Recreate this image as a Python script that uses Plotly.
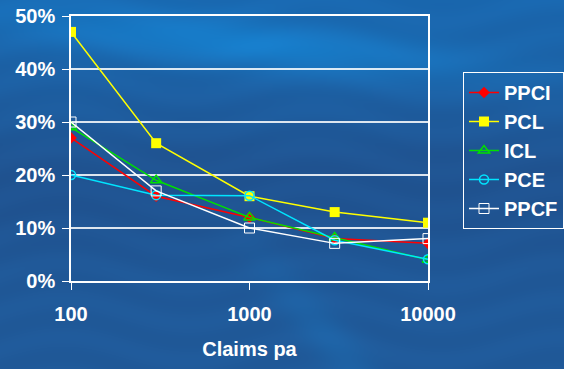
import base64
import struct
import zlib

import numpy as np
import plotly.graph_objects as go

# Claims per annum (log scale) and rates per series
claims = [100, 300, 1000, 3000, 10000]
ppci = [0.27, 0.16, 0.12, 0.08, 0.071]
pcl = [0.47, 0.26, 0.16, 0.13, 0.11]
icl = [0.29, 0.19, 0.12, 0.082, 0.04]
pce = [0.20, 0.162, 0.161, 0.077, 0.041]
ppcf = [0.30, 0.17, 0.10, 0.071, 0.08]

W, H = 564, 369
L, R, T, B = 71, 136, 16, 88


def ocean_png(w, h):
    """Build a blue, softly streaked backdrop as a PNG data URI."""
    yy, xx = np.mgrid[0:h, 0:w].astype(float)
    t = np.clip(yy / 160.0, 0, 1)
    base = np.stack([
        26 + 6 * t,
        104 - 14 * t,
        176 - 22 * t,
    ], axis=-1)
    # lighter diagonal band across the top
    band1 = np.exp(-((yy - 45 - 0.10 * (xx - 250)) / 26.0) ** 2) * np.exp(-((xx - 250) / 230.0) ** 2)
    # faint bright streak running down to the lower middle
    band2 = np.exp(-((xx - 250 - 0.8 * (yy - 240)) / 28.0) ** 2) * np.clip((yy - 200) / 120, 0, 1)
    # darker middle area
    dark = np.exp(-((yy - 190) / 70.0) ** 2)
    light = band1 * 1.0 + band2 * 0.35
    img = base + light[..., None] * np.array([-4, 26, 34]) - dark[..., None] * np.array([0, 6, 8])
    # gentle horizontal ripple texture
    ripple = 3 * np.sin(yy / 6.0 + np.sin(xx / 40.0) * 2.0)
    img = img + ripple[..., None] * np.array([0.2, 0.6, 0.8])
    img = np.clip(img, 0, 255).astype(np.uint8)
    raw = b"".join(b"\x00" + img[r].tobytes() for r in range(h))

    def chunk(tag, data):
        c = struct.pack(">I", len(data)) + tag + data
        return c + struct.pack(">I", zlib.crc32(tag + data) & 0xFFFFFFFF)

    png = b"\x89PNG\r\n\x1a\n"
    png += chunk(b"IHDR", struct.pack(">IIBBBBB", w, h, 8, 2, 0, 0, 0))
    png += chunk(b"IDAT", zlib.compress(raw, 9))
    png += chunk(b"IEND", b"")
    return "data:image/png;base64," + base64.b64encode(png).decode()


series = [
    ("PPCI", ppci, "#ff0000", dict(symbol="diamond", size=9, color="#ff0000")),
    ("PCL", pcl, "#ffff00", dict(symbol="square", size=10, color="#ffff00")),
    ("ICL", icl, "#00e000", dict(symbol="triangle-up-open", size=10, color="#00e000", line=dict(width=1.5))),
    ("PCE", pce, "#00e5ff", dict(symbol="circle-open", size=9, color="#00e5ff", line=dict(width=1.5))),
    ("PPCF", ppcf, "#ffffff", dict(symbol="square-open", size=10, color="#ffffff", line=dict(width=1))),
]

FAMILY = "Liberation Sans, Arial, sans-serif"
FS = 20

fig = go.Figure()
for name, vals, col, mk in series:
    fig.add_trace(go.Scatter(
        x=claims, y=vals, name=f"<b>{name}</b>", mode="lines+markers",
        line=dict(color=col, width=1.5), marker=mk,
    ))

pw, ph = W - L - R, H - T - B

fig.update_layout(
    width=W, height=H,
    margin=dict(l=L, r=R, t=T, b=B, autoexpand=False),
    paper_bgcolor="#205a9b",
    plot_bgcolor="rgba(0,0,0,0)",
    font=dict(family=FAMILY, size=FS, color="white"),
    showlegend=True,
    legend=dict(
        x=463 / W, y=1 - 72 / H, xref="container", yref="container",
        xanchor="left", yanchor="top",
        bgcolor="rgba(0,0,0,0)", bordercolor="white", borderwidth=1,
        font=dict(family=FAMILY, size=FS, color="white"),
        itemwidth=30, tracegroupgap=0,
    ),
    images=[dict(
        source=ocean_png(W, H), xref="paper", yref="paper",
        x=-L / pw, y=1 + T / ph,
        sizex=W / pw, sizey=H / ph,
        xanchor="left", yanchor="top", sizing="stretch", layer="below",
    )],
    xaxis=dict(
        type="log", range=[2, 4], automargin=False,
        tickvals=[100, 1000, 10000],
        ticktext=["<b>100</b>", "<b>1000</b>", "<b>10000</b>"],
        ticks="outside", ticklen=7, tickcolor="white", tickwidth=1,
        showgrid=False, showline=True, linecolor="white", linewidth=2, mirror=True,
        tickfont=dict(family=FAMILY, size=FS, color="white"),
        title=dict(text="<b>Claims pa</b>", standoff=18,
                   font=dict(family=FAMILY, size=FS, color="white")),
        ticklabelstandoff=7,
        zeroline=False,
    ),
    yaxis=dict(
        range=[0, 0.5], automargin=False,
        tickvals=[0, 0.1, 0.2, 0.3, 0.4, 0.5],
        ticktext=["<b>0%</b>", "<b>10%</b>", "<b>20%</b>", "<b>30%</b>", "<b>40%</b>", "<b>50%</b>"],
        ticks="outside", ticklen=7, tickcolor="white", tickwidth=1,
        showgrid=True, gridcolor="rgba(255,255,255,0.85)", gridwidth=1.5,
        showline=True, linecolor="white", linewidth=1.5, mirror=True,
        tickfont=dict(family=FAMILY, size=FS, color="white"),
        ticklabelstandoff=3,
        zeroline=False,
    ),
)

fig.write_html("out.html")
